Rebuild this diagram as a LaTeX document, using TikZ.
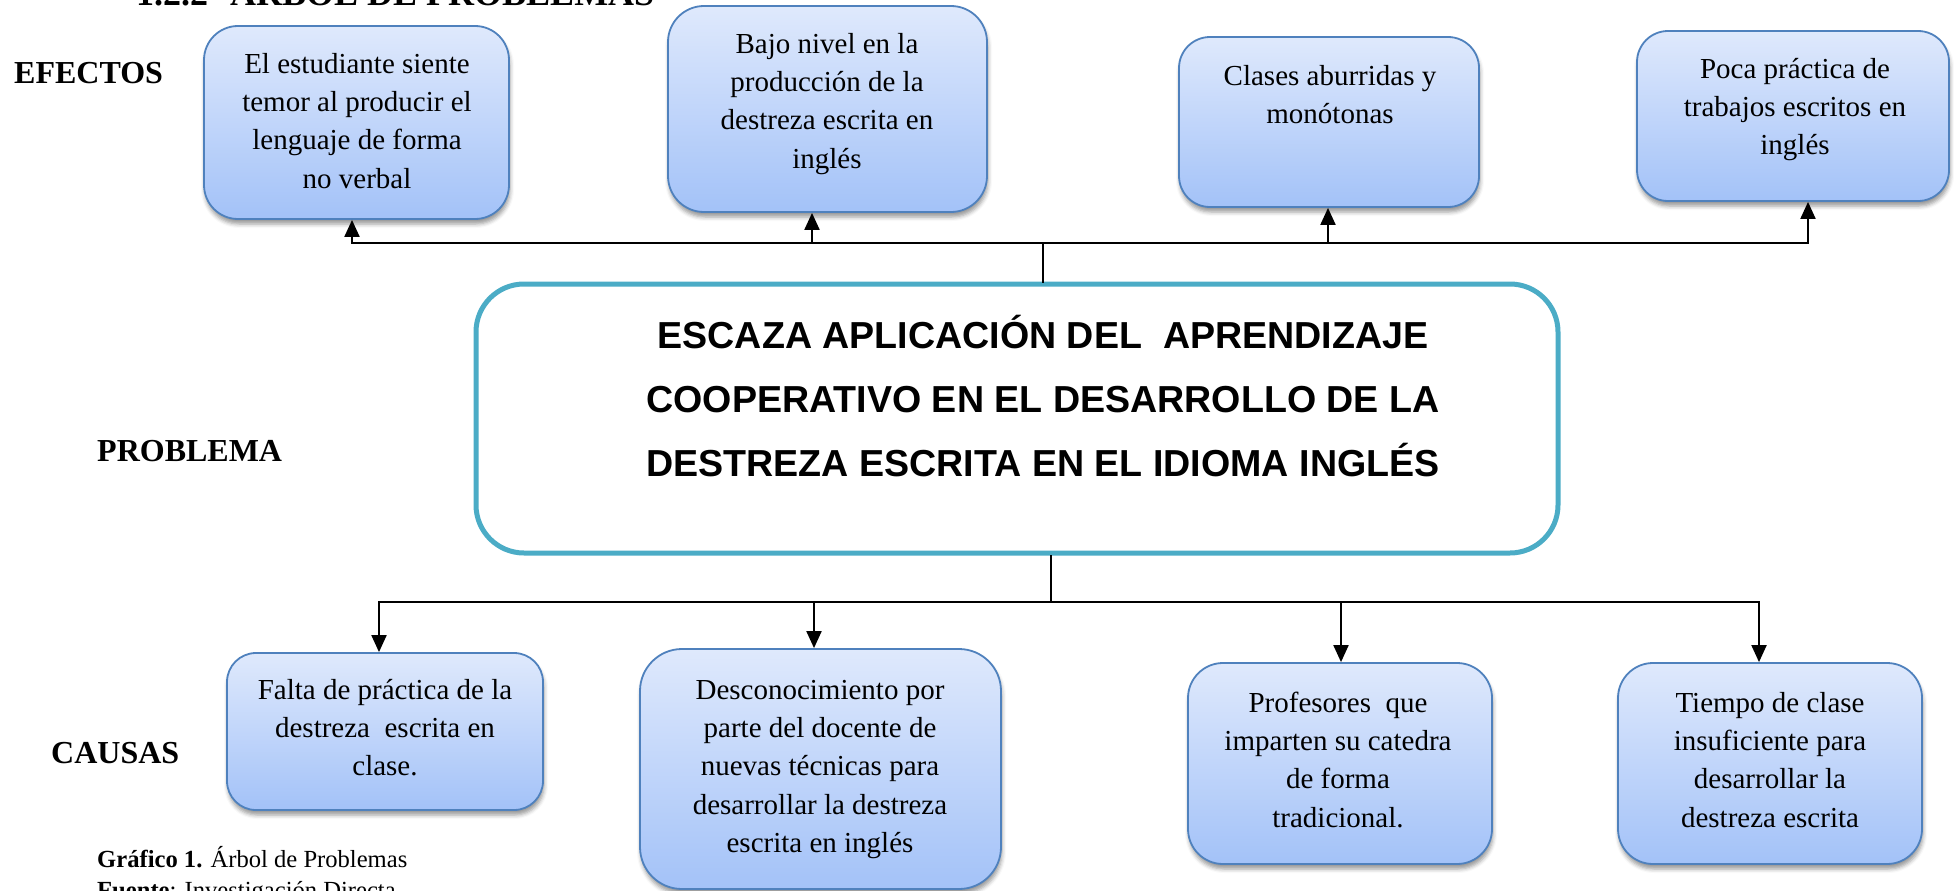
\documentclass[tikz,border=0pt]{standalone}
\usepackage{fontspec}
\setmainfont{Liberation Serif}
\newfontfamily\arialf{Liberation Sans}
\usetikzlibrary{arrows.meta,shadows.blur}
\definecolor{bxborder}{RGB}{79,129,189}
\definecolor{gtop}{RGB}{223,233,252}
\definecolor{gbot}{RGB}{163,194,248}
\definecolor{teal2}{RGB}{75,172,198}
\tikzset{
 gbox/.style={draw=bxborder, line width=1.8pt, top color=gtop, bottom color=gbot, inner sep=0pt,
   blur shadow={shadow xshift=1pt, shadow yshift=-5pt, shadow blur radius=4pt, shadow opacity=40}},
 btext/.style={anchor=north, inner sep=0pt, align=center, font=\fontsize{29}{38.3}\selectfont},
 pbox/.style={draw=teal2, line width=5pt, fill=white, rounded corners=48pt, inner sep=0pt},
 ptext/.style={anchor=north, inner sep=0pt, align=center, font=\arialf\bfseries\fontsize{37.6}{64}\selectfont},
 lbl/.style={anchor=base west, inner sep=0pt, font=\bfseries\fontsize{32}{38}\selectfont},
 captext/.style={anchor=base west, inner sep=0pt, font=\fontsize{24.6}{30}\selectfont},
 bus/.style={line width=2pt, line cap=rect},
 arr/.style={line width=2pt, -{Triangle[length=17pt,width=15pt]}},
}
\begin{document}
\begin{tikzpicture}[x=1pt,y=-1pt]
\useasboundingbox (0,0) rectangle (1954,891);
% heading (cut off at top)
\node[lbl, font=\bfseries\fontsize{36}{40}\selectfont] (h1) at (136,6) {1.2.2};
\node[lbl, font=\bfseries\fontsize{36}{40}\selectfont] (h2) at (230,6) {ÁRBOL DE PROBLEMAS};
% side labels
\node[lbl] (lef) at (14,83) {EFECTOS};
\node[lbl] (lpr) at (97,461) {PROBLEMA};
\node[lbl] (lca) at (51,763) {CAUSAS};
% caption
\node[captext] (cap1) at (97,867) {\textbf{Gráfico 1.} Árbol de Problemas};
\node[captext] (cap2) at (97,898) {\textbf{Fuente}: Investigación Directa};
% effect boxes
\node[gbox, rounded corners=34pt, minimum width=305pt, minimum height=193pt] (e1) at (356.5,122.5) {};
\node[btext] (e1t) at (357,47) {\rule{0pt}{26pt}El estudiante siente\\temor al producir el\\lenguaje de forma\\no verbal};
\node[gbox, rounded corners=36pt, minimum width=319pt, minimum height=206pt] (e2) at (827.5,109) {};
\node[btext] (e2t) at (827,27) {\rule{0pt}{26pt}Bajo nivel en la\\producción de la\\destreza escrita en\\inglés};
\node[gbox, rounded corners=31pt, minimum width=300pt, minimum height=170pt] (e3) at (1329,122) {};
\node[btext] (e3t) at (1330,59) {\rule{0pt}{26pt}Clases aburridas y\\monótonas};
\node[gbox, rounded corners=31pt, minimum width=312pt, minimum height=170pt] (e4) at (1793,116) {};
\node[btext] (e4t) at (1795,52) {\rule{0pt}{26pt}Poca práctica de\\trabajos escritos en\\inglés};
% problem box
\node[pbox, minimum width=1082pt, minimum height=269pt] (p) at (1017,418.5) {};
\node[ptext] (ptx) at (1043,312) {\rule{0pt}{36pt}ESCAZA APLICACIÓN DEL~~APRENDIZAJE\\COOPERATIVO EN EL DESARROLLO DE LA\\DESTREZA ESCRITA EN EL IDIOMA INGLÉS};
% cause boxes
\node[gbox, rounded corners=29pt, minimum width=316pt, minimum height=157pt] (c1) at (385,731.5) {};
\node[btext] (c1t) at (385,673) {\rule{0pt}{26pt}Falta de práctica de la\\destreza~~escrita en\\clase.};
\node[gbox, rounded corners=42pt, minimum width=361pt, minimum height=240pt] (c2) at (820.5,769) {};
\node[btext] (c2t) at (820,673) {\rule{0pt}{26pt}Desconocimiento por\\parte del docente de\\nuevas técnicas para\\desarrollar la destreza\\escrita en inglés};
\node[gbox, rounded corners=35pt, minimum width=304pt, minimum height=201pt] (c3) at (1340,763.5) {};
\node[btext] (c3t) at (1338,686) {\rule{0pt}{26pt}Profesores~~que\\imparten su catedra\\de forma\\tradicional.};
\node[gbox, rounded corners=35pt, minimum width=304pt, minimum height=201pt] (c4) at (1770,763.5) {};
\node[btext] (c4t) at (1770,686) {\rule{0pt}{26pt}Tiempo de clase\\insuficiente para\\desarrollar la\\destreza escrita};
% top connectors
\coordinate (pt) at (1043,243);
\coordinate (t1) at (352,243);
\coordinate (t2) at (812,243);
\coordinate (t3) at (1328,243);
\coordinate (t4) at (1808,243);
\draw[bus] (pt |- p.north) -- (pt);
\draw[bus] (t1) -- (t4);
\draw[arr] (t1) -- (t1 |- e1.south);
\draw[arr] (t2) -- (t2 |- e2.south);
\draw[arr] (t3) -- (t3 |- e3.south);
\draw[arr] (t4) -- (t4 |- e4.south);
% bottom connectors
\coordinate (pb) at (1051,602);
\coordinate (b1) at (379,602);
\coordinate (b2) at (814,602);
\coordinate (b3) at (1341,602);
\coordinate (b4) at (1759,602);
\draw[bus] (pb |- p.south) -- (pb);
\draw[bus] (b1) -- (b4);
\draw[arr] (b1) -- (b1 |- c1.north);
\draw[arr] (b2) -- (b2 |- c2.north);
\draw[arr] (b3) -- (b3 |- c3.north);
\draw[arr] (b4) -- (b4 |- c4.north);
\end{tikzpicture}
\end{document}
